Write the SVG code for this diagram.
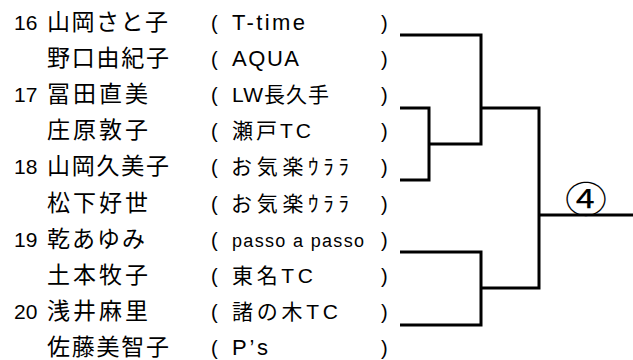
<svg xmlns="http://www.w3.org/2000/svg" width="633" height="360" viewBox="0 0 633 360">
<style>
.t{font-family:"Liberation Sans","Noto Sans CJK JP",sans-serif;fill:#000}
.num{font-size:21px}
.nm{font-size:23px}
.tm{font-size:21px}
.la{font-size:22px}
.p{font-size:20px}
.ln{fill:none;stroke:#000;stroke-width:3;stroke-linejoin:miter;stroke-linecap:butt}
</style>
<rect width="633" height="360" fill="#fff"/>
<g id="row1" class="t"><text class="num" x="14" y="29.5">16</text><text class="nm" x="47" y="29.5" textLength="121" lengthAdjust="spacing">山岡さと子</text><text class="p" x="211" y="29.5">(</text><text class="tm la" x="232" y="29.5" textLength="73" lengthAdjust="spacing">T-time</text><text class="p" x="381" y="29.5">)</text></g>
<g id="row2" class="t"><text class="nm" x="47" y="65.7" textLength="122" lengthAdjust="spacing">野口由紀子</text><text class="p" x="211" y="65.7">(</text><text class="tm la" x="232" y="65.7" textLength="67" lengthAdjust="spacing">AQUA</text><text class="p" x="381" y="65.7">)</text></g>
<g id="row3" class="t"><text class="num" x="14" y="101.9">17</text><text class="nm" x="47" y="101.9" textLength="101" lengthAdjust="spacing">冨田直美</text><text class="p" x="211" y="101.9">(</text><text class="tm" x="232" y="101.9" textLength="97" lengthAdjust="spacing">LW長久手</text><text class="p" x="381" y="101.9">)</text></g>
<g id="row4" class="t"><text class="nm" x="47" y="138.1" textLength="101" lengthAdjust="spacing">庄原敦子</text><text class="p" x="211" y="138.1">(</text><text class="tm" x="232" y="138.1" textLength="79" lengthAdjust="spacing">瀬戸TC</text><text class="p" x="381" y="138.1">)</text></g>
<g id="row5" class="t"><text class="num" x="14" y="174.3">18</text><text class="nm" x="47" y="174.3" textLength="122" lengthAdjust="spacing">山岡久美子</text><text class="p" x="211" y="174.3">(</text><text class="tm" x="231" y="174.3" textLength="118" lengthAdjust="spacing">お気楽ｳﾗﾗ</text><text class="p" x="381" y="174.3">)</text></g>
<g id="row6" class="t"><text class="nm" x="47" y="210.5" textLength="101" lengthAdjust="spacing">松下好世</text><text class="p" x="211" y="210.5">(</text><text class="tm" x="231" y="210.5" textLength="118" lengthAdjust="spacing">お気楽ｳﾗﾗ</text><text class="p" x="381" y="210.5">)</text></g>
<g id="row7" class="t"><text class="num" x="14" y="246.7">19</text><text class="nm" x="47" y="246.7" textLength="98" lengthAdjust="spacing">乾あゆみ</text><text class="p" x="211" y="246.7">(</text><text class="tm" x="232" y="246.7" style="font-size:18px" textLength="132" lengthAdjust="spacing">passo a passo</text><text class="p" x="381" y="246.7">)</text></g>
<g id="row8" class="t"><text class="nm" x="47" y="282.9" textLength="101" lengthAdjust="spacing">土本牧子</text><text class="p" x="211" y="282.9">(</text><text class="tm" x="232" y="282.9" textLength="81" lengthAdjust="spacing">東名TC</text><text class="p" x="381" y="282.9">)</text></g>
<g id="row9" class="t"><text class="num" x="14" y="319.1">20</text><text class="nm" x="47" y="319.1" textLength="101" lengthAdjust="spacing">浅井麻里</text><text class="p" x="211" y="319.1">(</text><text class="tm" x="232" y="319.1" textLength="106" lengthAdjust="spacing">諸の木TC</text><text class="p" x="381" y="319.1">)</text></g>
<g id="row10" class="t"><text class="nm" x="47" y="355.3" textLength="122" lengthAdjust="spacing">佐藤美智子</text><text class="p" x="211" y="355.3">(</text><text class="tm la" x="232" y="355.3" textLength="36" lengthAdjust="spacing">P’s</text><text class="p" x="381" y="355.3">)</text></g>
<g id="connectors" class="ln">
<path d="M400 35H481V144H429"/>
<path d="M400 108H429V180H400"/>
<path d="M481 108H539V288H481"/>
<path d="M400 252H481V325H400"/>
<path d="M539 215H633"/>
</g>
<g id="result"><text transform="translate(586,212.5) scale(1,0.86)" text-anchor="middle" style="font-family:'Noto Sans CJK JP',sans-serif;font-size:42px">④</text></g>
</svg>
